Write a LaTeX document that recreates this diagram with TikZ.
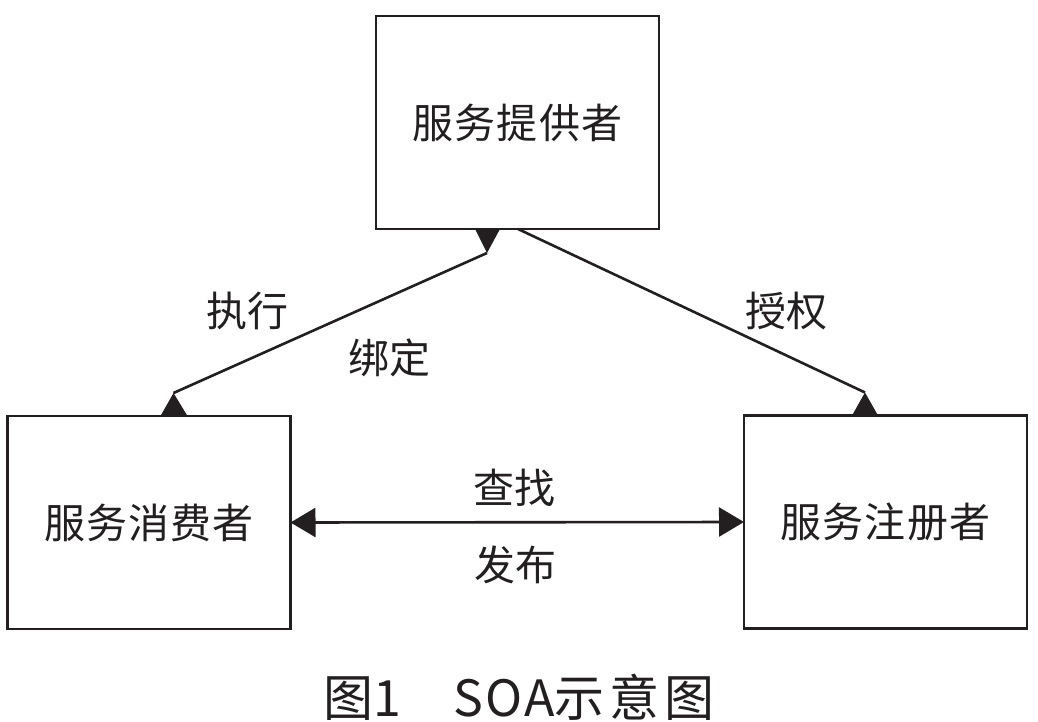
\documentclass[tikz,border=0pt]{standalone}
\usepackage{fontspec}
\newfontfamily\cjk{Noto Sans CJK SC}
\newfontfamily\cjkwide{Noto Sans CJK SC}[LetterSpace=10]
\newfontfamily\cjklat{Noto Sans CJK SC}[LetterSpace=4]
\usetikzlibrary{arrows.meta,calc}
\definecolor{ink}{HTML}{231F20}
\tikzset{
  box/.style={draw=ink, line width=2.6bp, fill=white, inner sep=0pt, outer sep=0pt,
    minimum width=283bp, minimum height=213bp, font=\cjk\fontsize{41bp}{41bp}\selectfont\addfontfeatures{LetterSpace=3}, text=ink},
  lbl/.style={inner sep=0pt, font=\cjk\fontsize{41bp}{41bp}\selectfont, text=ink},
  conn/.style={draw=ink, line width=2.6bp},
  head/.style={fill=ink}
}
\begin{document}
\begin{tikzpicture}[x=1bp,y=-1bp]
\useasboundingbox[fill=white] (0,0) rectangle (1038,722);
% boxes
\node[box] (tb) at (517.5,122.5) {服务提供者};
\node[box] (lb) at (149,522.5) {服务消费者};
\node[box] (rb) at (885.5,522) {服务注册者};
% connector lb <-> tb
\coordinate (a1) at ($(lb.north west)+(166,-23)$);
\coordinate (a2) at ($(tb.south west)+(111,24)$);
\draw[conn] (a1) -- (a2);
\fill[head] ($(lb.north west)+(153,0)$) -- (a1) -- ($(lb.north west)+(180,0)$) -- cycle;
\fill[head] ($(tb.south west)+(99,0)$) -- (a2) -- ($(tb.south west)+(124,0)$) -- cycle;
% connector tb -> rb
\coordinate (b1) at ($(tb.south west)+(142,0)$);
\coordinate (b2) at ($(rb.north west)+(121,-23)$);
\draw[conn] (b1) -- (b2);
\fill[head] ($(rb.north west)+(108,0)$) -- (b2) -- ($(rb.north west)+(134,0)$) -- cycle;
% connector lb <-> rb
\draw[conn, {Triangle[length=25bp,width=29bp]}-{Triangle[length=25bp,width=29bp]}] (lb.east) -- (rb.west);
% labels
\node[lbl] (l1) at (247,311) {执行};
\node[lbl] (l2) at (389,358) {绑定};
\node[lbl] (l3) at (786,311) {授权};
\node[lbl] (l4) at (514,488) {查找};
\node[lbl] (l5) at (515,565) {发布};
% caption
\node[inner sep=0pt, anchor=base, text=ink] (cap) at (519,716)
  {\fontsize{50bp}{50bp}\selectfont{\cjkwide 图}{\cjk 1}\hspace{1.05em}{\cjklat SOA}{\cjkwide 示意图}};
\end{tikzpicture}
\end{document}
